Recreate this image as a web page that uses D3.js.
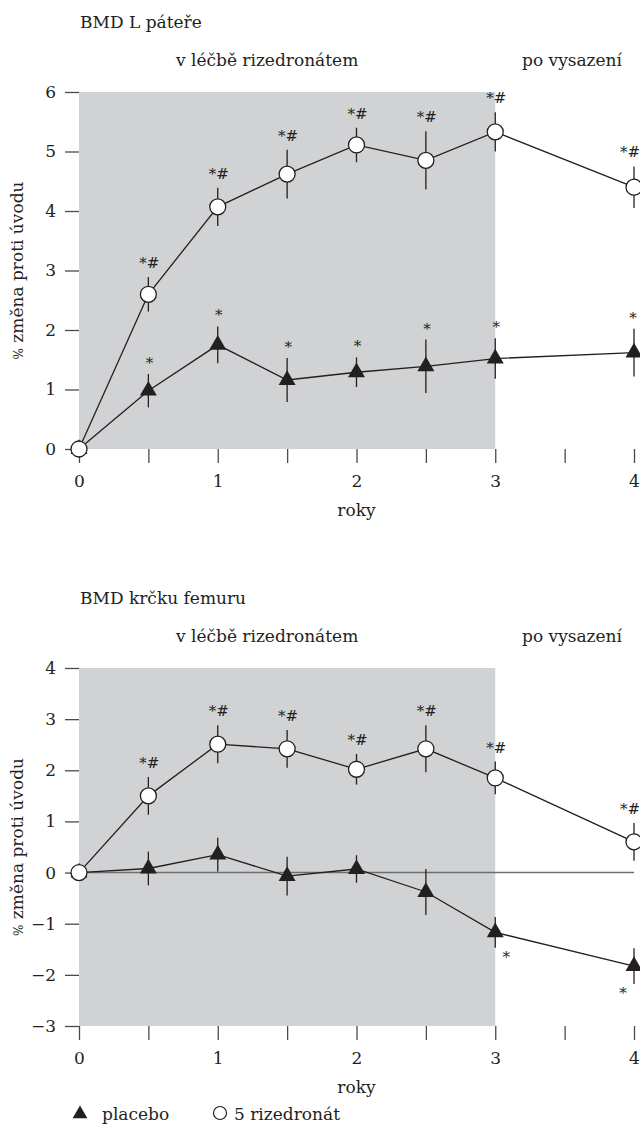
<!DOCTYPE html>
<html>
<head>
<meta charset="utf-8">
<script src="https://cdn.jsdelivr.net/npm/d3@7"></script>
<style>
  html, body { margin: 0; padding: 0; background: #fff; }
  svg { display: block; }
  text { font-family: "DejaVu Serif", "Liberation Serif", serif; fill: #231f20; }
</style>
</head>
<body>
<svg id="chart" width="640" height="1125"></svg>
<script>
// Measurement times (years since baseline)
const years = [0, 0.5, 1, 1.5, 2, 2.5, 3, 4];
const xTicks = [0, 0.5, 1, 1.5, 2, 2.5, 3, 3.5, 4];

// Lumbar spine BMD, % change from baseline
const spineRisedronate = [0, 2.6, 4.07, 4.62, 5.11, 4.85, 5.33, 4.4];
const spineRisedronateErr = [0, 0.29, 0.32, 0.41, 0.29, 0.49, 0.33, 0.35];
const spinePlacebo = [0, 0.98, 1.75, 1.16, 1.29, 1.39, 1.52, 1.62];
const spinePlaceboErr = [0, 0.28, 0.31, 0.37, 0.25, 0.45, 0.34, 0.4];
const spineRisedronateMarks = ["", "*#", "*#", "*#", "*#", "*#", "*#", "*#"];
const spinePlaceboMarks = ["", "*", "*", "*", "*", "*", "*", "*"];
const spineYTicks = [0, 1, 2, 3, 4, 5, 6];

// Femoral neck BMD, % change from baseline
const femurRisedronate = [0, 1.5, 2.51, 2.42, 2.02, 2.42, 1.85, 0.6];
const femurRisedronateErr = [0, 0.37, 0.37, 0.37, 0.3, 0.46, 0.32, 0.37];
const femurPlacebo = [0, 0.08, 0.35, -0.07, 0.07, -0.38, -1.17, -1.83];
const femurPlaceboErr = [0, 0.33, 0.33, 0.38, 0.27, 0.45, 0.3, 0.35];
const femurRisedronateMarks = ["", "*#", "*#", "*#", "*#", "*#", "*#", "*#"];
const femurPlaceboMarks = ["", "", "", "", "", "", "*", "*"];
const femurYTicks = [-3, -2, -1, 0, 1, 2, 3, 4];

// Labels
const panelTitles = ["BMD L páteře", "BMD krčku femuru"];
const phaseLabels = ["v léčbě rizedronátem", "po vysazení"];
const yTitle = ["%", " změna proti úvodu"];
const xTitle = "roky";
const legendLabels = ["placebo", "5 rizedronát"];
const treatmentEnd = 3;

const svg = d3.select("#chart");
const x = d3.scaleLinear().domain([0, 4]).range([79, 634]);
const ink = "#231f20";
const axisInk = "#4a4a4a";
const shade = "#d1d2d4";

function panel(opt) {
  const y = d3.scaleLinear().domain(opt.domain).range([opt.bottom, opt.top]);
  const g = svg.append("g");

  // Titles
  g.append("text").attr("x", 80).attr("y", opt.top - 64)
    .attr("font-size", 17).text(opt.title);
  g.append("text").attr("x", (x(0) + x(treatmentEnd)) / 2 - 20).attr("y", opt.top - 26)
    .attr("text-anchor", "middle").attr("font-size", 17).text(phaseLabels[0]);
  g.append("text").attr("x", 572).attr("y", opt.top - 26)
    .attr("text-anchor", "middle").attr("font-size", 17).text(phaseLabels[1]);

  // Treatment period shading
  g.append("rect")
    .attr("x", x(0)).attr("y", opt.top)
    .attr("width", x(treatmentEnd) - x(0)).attr("height", opt.bottom - opt.top)
    .attr("fill", shade);

  // Y axis
  const yAxis = g.append("g").attr("transform", `translate(${x(0)},0)`)
    .call(d3.axisLeft(y).tickValues(opt.yTicks).tickSize(14).tickPadding(9)
      .tickFormat(d => d < 0 ? "\u2212" + Math.abs(d) : d));
  yAxis.select(".domain").remove();
  yAxis.selectAll("line").attr("stroke", axisInk).attr("stroke-width", 1.3);
  yAxis.selectAll("text").attr("font-size", 17).attr("font-family", null).attr("fill", "#333");

  // X axis
  const xAxis = g.append("g").attr("transform", `translate(0,${opt.bottom})`)
    .call(d3.axisBottom(x).tickValues(xTicks).tickSize(14).tickPadding(12)
      .tickFormat(d => Number.isInteger(d) ? d : ""));
  xAxis.select(".domain").remove();
  xAxis.selectAll("line").attr("stroke", axisInk).attr("stroke-width", 1.3);
  xAxis.selectAll("text").attr("font-size", 17).attr("font-family", null).attr("fill", "#333");

  g.append("text").attr("x", x(2)).attr("y", opt.bottom + 67)
    .attr("text-anchor", "middle").attr("font-size", 17).text(xTitle);

  // Y title
  const yt = g.append("text")
    .attr("transform", `translate(23,${(opt.top + opt.bottom) / 2}) rotate(-90)`)
    .attr("text-anchor", "middle").attr("font-size", 17);
  yt.append("tspan").attr("font-size", 12).text(yTitle[0]);
  yt.append("tspan").text(yTitle[1]);

  // Zero reference line
  if (opt.zeroLine) {
    g.append("line").attr("x1", x(0)).attr("x2", x(4))
      .attr("y1", y(0)).attr("y2", y(0))
      .attr("stroke", "#6d6e70").attr("stroke-width", 1.6);
  }

  const line = d3.line().x((d, i) => x(years[i])).y(d => y(d));

  function series(vals, errs, kind) {
    const s = g.append("g");
    s.append("path").datum(vals).attr("d", line)
      .attr("fill", "none").attr("stroke", ink).attr("stroke-width", 1.3);
    s.selectAll("line.err").data(vals).join("line").attr("class", "err")
      .attr("x1", (d, i) => x(years[i])).attr("x2", (d, i) => x(years[i]))
      .attr("y1", (d, i) => y(d + errs[i])).attr("y2", (d, i) => y(d - errs[i]))
      .attr("stroke", ink).attr("stroke-width", 1.3);
    if (kind === "circle") {
      s.selectAll("circle").data(vals).join("circle")
        .attr("cx", (d, i) => x(years[i])).attr("cy", d => y(d)).attr("r", 8)
        .attr("fill", "#fff").attr("stroke", ink).attr("stroke-width", 1.3);
    } else {
      s.selectAll("path.mk").data(vals).join("path").attr("class", "mk")
        .attr("d", d3.symbol(d3.symbolTriangle, 125))
        .attr("transform", (d, i) => `translate(${x(years[i])},${y(d)})`)
        .attr("fill", ink);
    }
  }

  series(opt.placebo, opt.placeboErr, "triangle");
  series(opt.rise, opt.riseErr, "circle");

  // Significance marks
  g.selectAll("text.rm").data(opt.rise).join("text").attr("class", "rm")
    .attr("x", (d, i) => years[i] === 4 ? 640 : x(years[i]) + 1)
    .attr("y", (d, i) => y(d + opt.riseErr[i]) - 9)
    .attr("text-anchor", (d, i) => years[i] === 4 ? "end" : "middle")
    .attr("font-size", 15).attr("fill", "#333")
    .text((d, i) => opt.riseMarks[i]);

  g.selectAll("text.pm").data(opt.placebo).join("text").attr("class", "pm")
    .attr("x", (d, i) => {
      if (opt.marksBelow) return x(years[i]) + (years[i] < 4 ? 11 : -11);
      return years[i] === 4 ? x(years[i]) - 1 : x(years[i]) + 1;
    })
    .attr("y", (d, i) => opt.marksBelow
      ? y(d - opt.placeboErr[i]) + 14
      : y(d + opt.placeboErr[i]) - 6)
    .attr("text-anchor", "middle").attr("font-size", 15).attr("fill", "#333")
    .text((d, i) => opt.placeboMarks[i]);
}

panel({
  title: panelTitles[0], top: 92, bottom: 449, domain: [0, 6], yTicks: spineYTicks,
  rise: spineRisedronate, riseErr: spineRisedronateErr, riseMarks: spineRisedronateMarks,
  placebo: spinePlacebo, placeboErr: spinePlaceboErr, placeboMarks: spinePlaceboMarks,
  zeroLine: false, marksBelow: false
});

panel({
  title: panelTitles[1], top: 668, bottom: 1026, domain: [-3, 4], yTicks: femurYTicks,
  rise: femurRisedronate, riseErr: femurRisedronateErr, riseMarks: femurRisedronateMarks,
  placebo: femurPlacebo, placeboErr: femurPlaceboErr, placeboMarks: femurPlaceboMarks,
  zeroLine: true, marksBelow: true
});

// Legend
const lg = svg.append("g").attr("transform", "translate(0,1114)");
lg.append("path").attr("d", d3.symbol(d3.symbolTriangle, 95))
  .attr("transform", "translate(80,0)").attr("fill", ink);
lg.append("text").attr("x", 102).attr("y", 6).attr("font-size", 17).text(legendLabels[0]);
lg.append("circle").attr("cx", 220).attr("cy", -1).attr("r", 6.5)
  .attr("fill", "#fff").attr("stroke", ink).attr("stroke-width", 1.2);
lg.append("text").attr("x", 234).attr("y", 6).attr("font-size", 17).text(legendLabels[1]);
</script>
</body>
</html>
